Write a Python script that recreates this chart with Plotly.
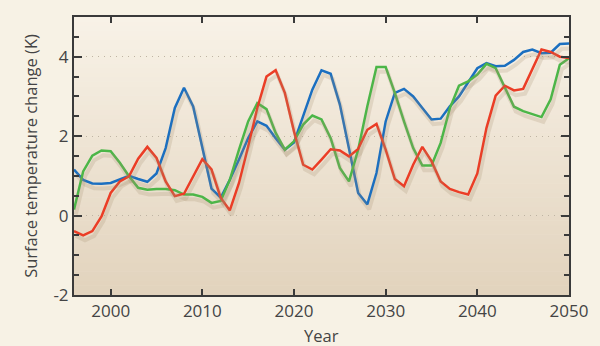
import plotly.graph_objects as go

years = list(range(1996, 2051))

blue = [1.16, 0.90, 0.81, 0.80, 0.82, 0.90, 1.00, 0.92, 0.85, 1.06,
        1.70, 2.71, 3.22, 2.75, 1.70, 0.68, 0.45, 0.90, 1.41, 1.95,
        2.37, 2.26, 1.95, 1.66, 1.84, 2.50, 3.17, 3.66, 3.57, 2.80,
        1.70, 0.57, 0.28, 1.07, 2.37, 3.09, 3.19, 3.00, 2.71, 2.42,
        2.44, 2.75, 3.00, 3.34, 3.71, 3.84, 3.76, 3.77, 3.92, 4.12,
        4.18, 4.09, 4.10, 4.32, 4.33]

green = [0.15, 1.11, 1.51, 1.64, 1.62, 1.33, 0.99, 0.70, 0.65, 0.67,
         0.67, 0.64, 0.53, 0.53, 0.47, 0.32, 0.37, 0.90, 1.66, 2.37,
         2.83, 2.68, 2.08, 1.66, 1.87, 2.29, 2.52, 2.42, 1.95, 1.20,
         0.86, 1.66, 2.75, 3.74, 3.74, 3.09, 2.37, 1.70, 1.26, 1.26,
         1.83, 2.70, 3.27, 3.38, 3.55, 3.82, 3.71, 3.21, 2.74, 2.63,
         2.55, 2.48, 2.93, 3.80, 3.96]

red = [-0.39, -0.50, -0.39, -0.02, 0.57, 0.86, 0.99, 1.43, 1.73, 1.45,
       0.86, 0.49, 0.55, 0.99, 1.42, 1.16, 0.45, 0.13, 0.82, 1.74,
       2.71, 3.50, 3.66, 3.09, 2.12, 1.28, 1.16, 1.41, 1.67, 1.64,
       1.49, 1.68, 2.16, 2.31, 1.66, 0.92, 0.74, 1.28, 1.73, 1.37,
       0.86, 0.67, 0.59, 0.53, 1.06, 2.21, 3.02, 3.27, 3.15, 3.19,
       3.67, 4.18, 4.12, 4.00, 3.97]

series = [("blue", blue, "#1b6fc0"), ("green", green, "#4cb648"), ("red", red, "#eb3d26")]

x_ticks = [2000, 2010, 2020, 2030, 2040, 2050]
y_ticks = [-2, 0, 2, 4]
y_labels = ["-2", "0", "2", "4"]

XR = [1996, 2050]
YR = [-2, 5]
sx, sy = 0.2, 0.12  # shadow offset in data units

fig = go.Figure()

# shadows on overlaid, shifted axes
for name, vals, col in series:
    fig.add_trace(go.Scatter(x=years, y=vals, mode="lines", xaxis="x2", yaxis="y2",
                             line=dict(color="rgba(165,140,110,0.22)", width=4),
                             hoverinfo="skip", showlegend=False))
for name, vals, col in series:
    fig.add_trace(go.Scatter(x=years, y=vals, mode="lines", name=name,
                             line=dict(color=col, width=2.5), showlegend=False))

# gradient background bands
shapes = []
N = 60
top = (248, 242, 231)
bot = (226, 211, 189)
for i in range(N):
    t = i / (N - 1)
    c = tuple(round(bot[k] + (top[k] - bot[k]) * t) for k in range(3))
    shapes.append(dict(type="rect", xref="x domain", yref="y domain",
                       x0=0, x1=1, y0=i / N, y1=min(1, (i + 1) / N + 0.002),
                       fillcolor="rgb(%d,%d,%d)" % c, line=dict(width=0), layer="below"))

font = "Open Sans"
fig.update_layout(
    width=600, height=346,
    margin=dict(l=74, r=23, t=17, b=51),
    paper_bgcolor="#f7f2e5",
    plot_bgcolor="#f7f2e5",
    shapes=shapes,
    font=dict(family=font, color="#444444", size=17),
    xaxis=dict(range=XR, tickvals=x_ticks, ticks="inside", ticklen=6, tickwidth=1.5,
               tickcolor="#3a3a3a", showline=True, linecolor="#3a3a3a", linewidth=2,
               mirror="ticks", showgrid=False, zeroline=False,
               tickfont=dict(size=17, color="#444444")),
    yaxis=dict(range=YR, tickvals=y_ticks, ticktext=y_labels, ticks="inside", ticklen=8,
               tickwidth=1.5, tickcolor="#3a3a3a", showline=True, linecolor="#3a3a3a",
               linewidth=2, mirror="ticks", showgrid=True, gridcolor="#bfb4a3",
               griddash="1px,5px", gridwidth=1, zeroline=False,
               minor=dict(tickmode="linear", tick0=0, dtick=0.5, ticks="inside", ticklen=5,
                          tickwidth=1.5, tickcolor="#3a3a3a", showgrid=False),
               tickfont=dict(size=17, color="#444444"),
               title=dict(text="Surface temperature change (K)", font=dict(size=16.5, color="#444444"),
                          standoff=12)),
    xaxis2=dict(range=[XR[0] - sx, XR[1] - sx], overlaying="x", visible=False),
    yaxis2=dict(range=[YR[0] + sy, YR[1] + sy], overlaying="y", visible=False),
    annotations=[dict(text="Year", xref="paper", yref="paper", x=0.5, y=0,
                      yshift=-40, showarrow=False, yanchor="middle",
                      font=dict(size=16.5, color="#444444"))],
)

fig.write_html("out.html")
